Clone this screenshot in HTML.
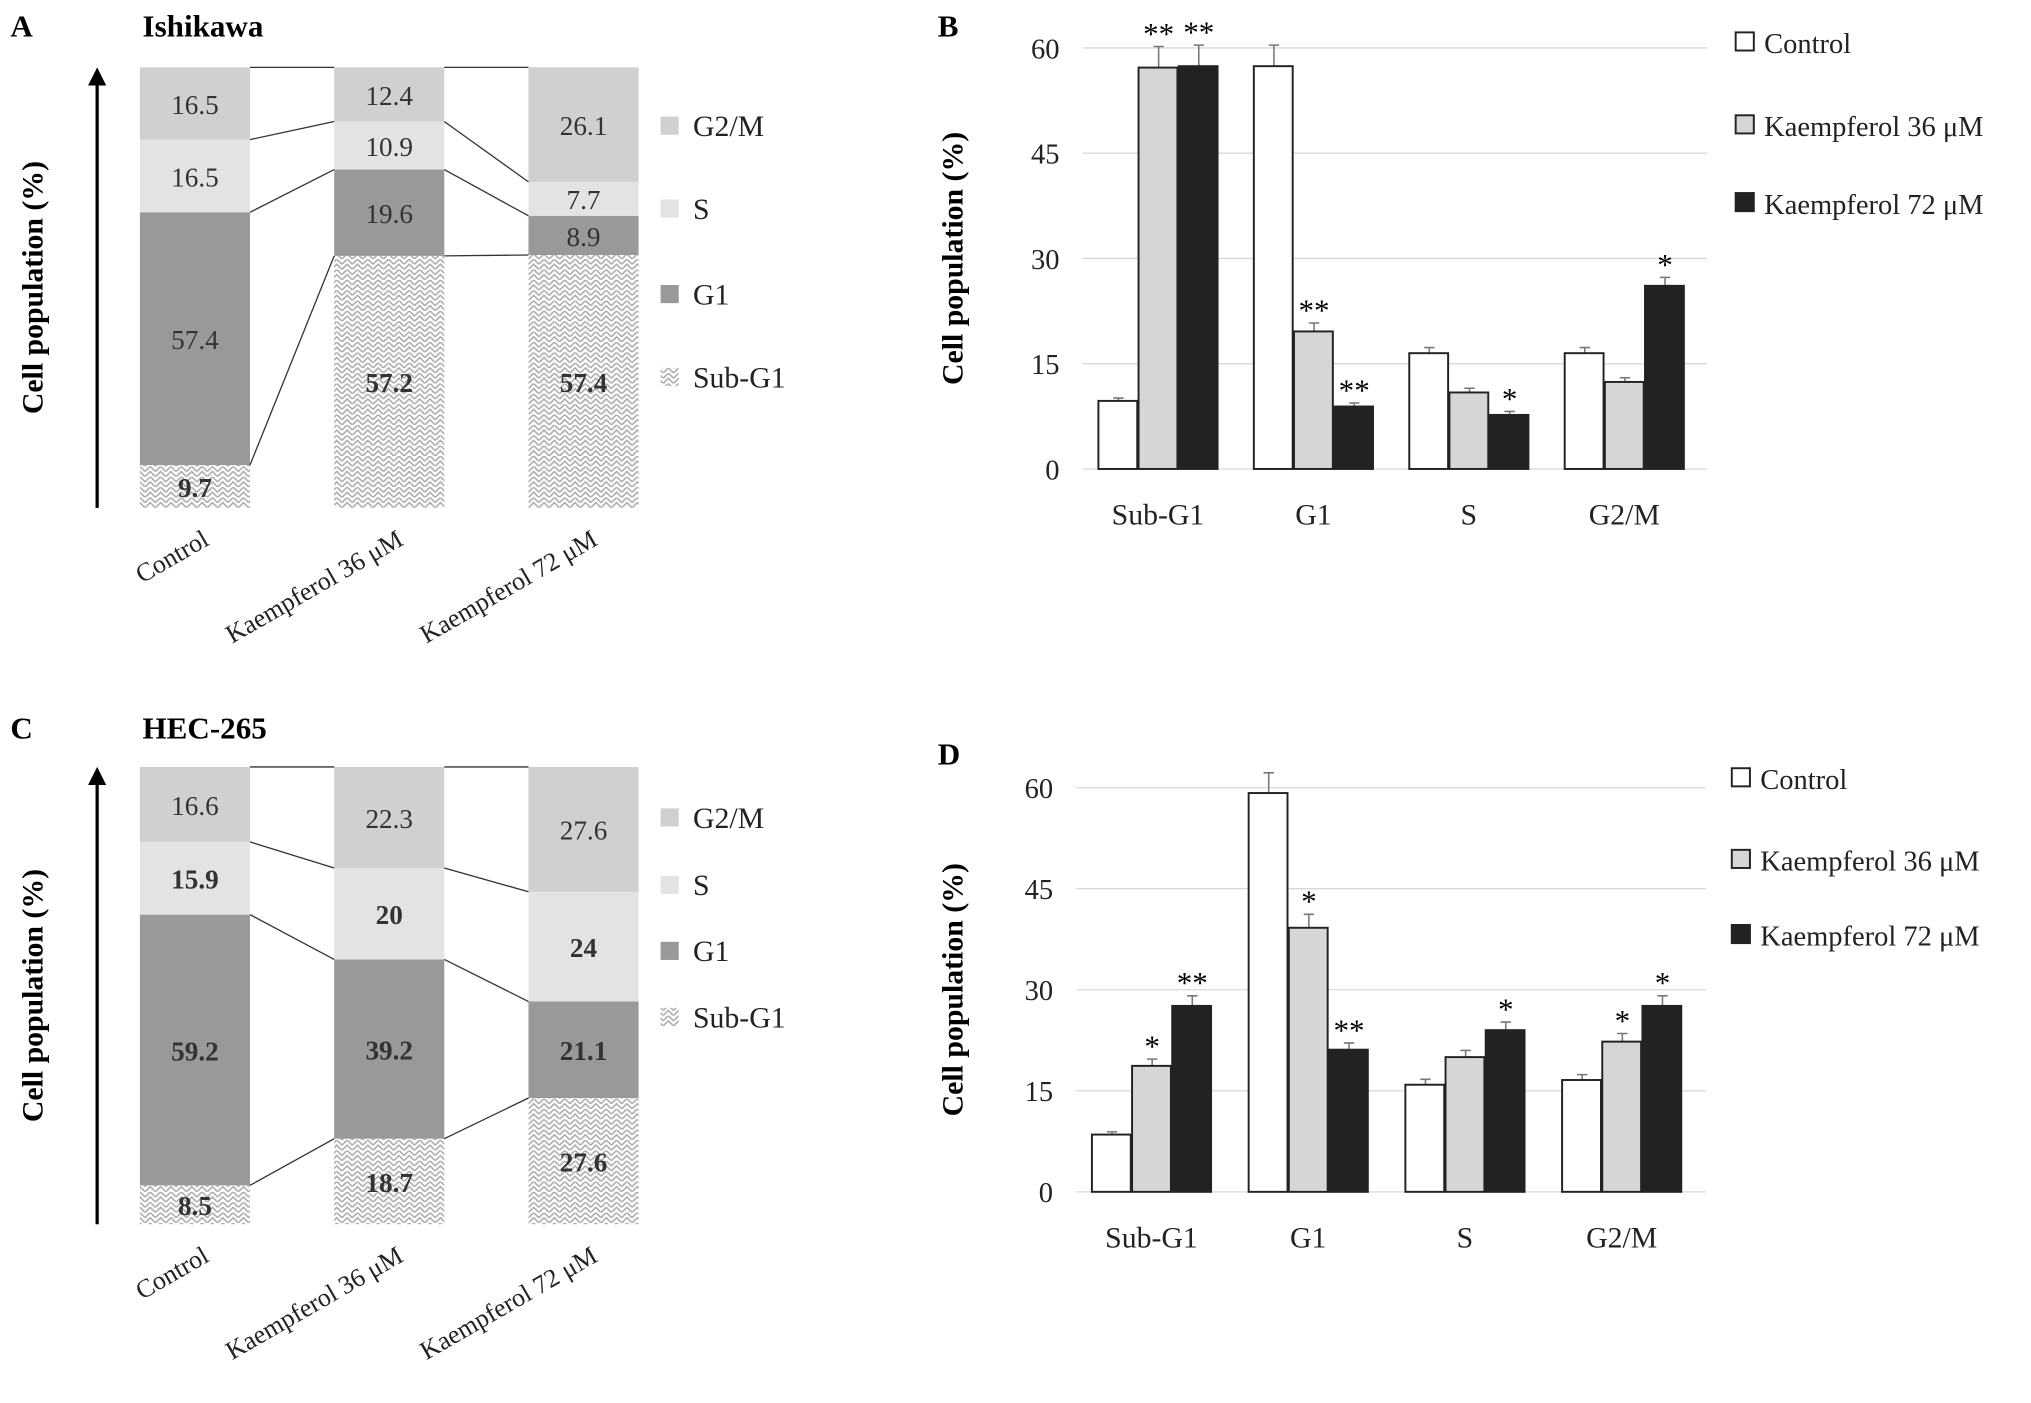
<!DOCTYPE html>
<html><head><meta charset="utf-8"><style>
html,body{margin:0;padding:0;background:#fff}
svg{display:block;font-family:"Liberation Serif",serif}
</style></head><body>
<svg id="fig" width="2031" height="1403" viewBox="0 0 1568 1083" preserveAspectRatio="none" xmlns="http://www.w3.org/2000/svg">
<defs>
<pattern id="hatch" width="8" height="8" patternUnits="userSpaceOnUse">
<rect width="8" height="8" fill="#fff"/>
<path d="M0 4 L4 0 L8 4 M0 8 L4 4 L8 8" stroke="#aaa" stroke-width="1.2" fill="none"/>
</pattern>
</defs>
<g id="root"></g>
</svg>
<script>
// Panel A / C stacked data (order: Sub-G1, G1, S, G2/M)
const stackCats = ["Control","Kaempferol 36 μM","Kaempferol 72 μM"];
const phases = ["Sub-G1","G1","S","G2/M"];
const aSubG1 = [9.7,57.2,57.4];
const aG1 = [57.4,19.6,8.9];
const aS = [16.5,10.9,7.7];
const aG2M = [16.5,12.4,26.1];
const cSubG1 = [8.5,18.7,27.6];
const cG1 = [59.2,39.2,21.1];
const cS = [15.9,20,24];
const cG2M = [16.6,22.3,27.6];
// Panel B / D bar data
const barCats = ["Sub-G1","G1","S","G2/M"];
const yTicks = [0,15,30,45,60];
const bControl = [9.7,57.4,16.5,16.5];
const bK36 = [57.2,19.6,10.9,12.4];
const bK72 = [57.4,8.9,7.7,26.1];
const bErrC = [0.4,3,0.8,0.8];
const bErr36 = [3,1.2,0.6,0.6];
const bErr72 = [3,0.5,0.5,1.2];
const bStars36 = ["**","**","",""];
const bStars72 = ["**","**","*","*"];
const dControl = [8.5,59.2,15.9,16.6];
const dK36 = [18.7,39.2,20,22.3];
const dK72 = [27.6,21.1,24,27.6];
const dErrC = [0.4,3,0.8,0.8];
const dErr36 = [1,2,1,1.2];
const dErr72 = [1.5,1,1.2,1.5];
const dStars36 = ["*","*","","*"];
const dStars72 = ["**","**","*","*"];

const NS="http://www.w3.org/2000/svg";
const root=document.getElementById('root');
function el(tag,attrs,parent,text){const e=document.createElementNS(NS,tag);for(const k in attrs)e.setAttribute(k,attrs[k]);if(text!==undefined)e.textContent=text;(parent||root).appendChild(e);return e;}

function stacked(letter,title,top,bottom,sub,g1,s,g2,boldSet,legendY,py){
  const g=el('g',{});
  
  
  const t1=el('text',{x:8,y:py,'font-size':24,'font-weight':'bold'},g,letter);
  
  const t2=el('text',{x:110,y:py,'font-size':24,'font-weight':'bold'},g,title);
  
  const sc=(bottom-top)/100;
  const y=v=>bottom-v*sc;
  const xs=[108,258,408], w=85;
  const fills=['url(#hatch)','#999','#e3e3e3','#d0d0d0'];
  const series=[sub,g1,s,g2];
  const bounds=[];
  for(let i=0;i<3;i++){
    let cum=0;const b=[bottom];
    for(let p=0;p<4;p++){
      const v=series[p][i];const y0=y(cum);let y1=y(cum+v);if(p==3)y1=top;
      const r=el('rect',{x:xs[i],y:y1,width:w,height:Math.max(0,y0-y1),fill:fills[p]},g);
      
      
      const lbl=el('text',{x:xs[i]+w/2,y:(y0+y1)/2+8,'font-size':21,'text-anchor':'middle','font-weight':boldSet[p][i]?'bold':'normal',fill:'#333'},g,String(v));
      
      cum+=v;b.push(p==3?top:y1);
    }
    bounds.push(b);
  }
  for(let i=0;i<2;i++)for(let k=1;k<5;k++){
    const ln=el('line',{x1:xs[i]+w,y1:bounds[i][k],x2:xs[i+1],y2:bounds[i+1][k],stroke:'#333','stroke-width':1},g);
    
  }
  const ax=el('line',{x1:75,y1:bottom,x2:75,y2:top+10,stroke:'#000','stroke-width':2.5},g);
  
  el('path',{d:`M68 ${top+14} L75 ${top} L82 ${top+14} Z`,fill:'#000'},g);
  const yt=el('text',{transform:`translate(33 ${(top+bottom)/2}) rotate(-90)`,'font-size':23,'font-weight':'bold','text-anchor':'middle'},g,'Cell population (%)');
  
  for(let i=0;i<3;i++){
    const tx=el('text',{transform:`translate(${xs[i]+w/2+12} ${bottom+28}) rotate(-30)`,'font-size':20,'text-anchor':'end',fill:'#222'},g,stackCats[i]);
    
  }
  const names=['G2/M','S','G1','Sub-G1'];const lf=['#d0d0d0','#e3e3e3','#999','url(#hatch)'];
  for(let k=0;k<4;k++){
    const le=el('g',{},g);
    el('rect',{x:510,y:legendY[k]-8,width:14,height:14,fill:lf[k]},le);
    el('text',{x:535,y:legendY[k]+7,'font-size':23,fill:'#222'},le,names[k]);
  }
}
stacked('A','Ishikawa',52,392,aSubG1,aG1,aS,aG2M,[[1,1,1],[0,0,0],[0,0,0],[0,0,0]],[98,162,228,292],28);
stacked('C','HEC-265',592,945,cSubG1,cG1,cS,cG2M,[[1,1,1],[1,1,1],[1,1,1],[0,0,0]],[632,684,735,786],570);

function bars(letter,py,zeroY,topY,x0,spacing,ctrl,k36,k72,eC,e36,e72,s36,s72,legX,legY){
  const g=el('g',{});
  
  
  const t1=el('text',{x:724,y:py,'font-size':24,'font-weight':'bold'},g,letter);
  
  const sc=(zeroY-topY)/60;const y=v=>zeroY-v*sc;
  for(const t of yTicks){
    const gl=el('line',{x1:x0-12,x2:x0+4*spacing-10,y1:y(t),y2:y(t),stroke:'#d8d8d8','stroke-width':1},g);
    
    const tl=el('text',{x:x0-30,y:y(t)+8,'font-size':22,'text-anchor':'end',fill:'#222'},g,String(t));
    
  }
  const yt=el('text',{transform:`translate(743 ${(zeroY+topY)/2}) rotate(-90)`,'font-size':23,'font-weight':'bold','text-anchor':'middle'},g,'Cell population (%)');
  
  const bw=31;const ser=[ctrl,k36,k72],err=[eC,e36,e72],fills=['#fff','#d6d6d6','#222'],stars=[null,s36,s72];
  for(let i=0;i<4;i++){
    for(let s=0;s<3;s++){
      const x=x0+spacing*i+s*bw;const v=ser[s][i];
      const eb=el('path',{d:`M${x+bw/2} ${y(v)} V${y(v+err[s][i])} M${x+bw/2-4} ${y(v+err[s][i])} H${x+bw/2+4}`,stroke:'#777','stroke-width':1.2,fill:'none'},g);
      
      const r=el('rect',{x:x,y:y(v),width:bw-1,height:zeroY-y(v),fill:fills[s],stroke:'#222','stroke-width':1.5},g);
      
      if(stars[s]&&stars[s][i]){
        const st=el('text',{x:x+bw/2,y:y(v+err[s][i])-2,'font-size':24,'text-anchor':'middle'},g,stars[s][i]);
        
      }
    }
    const xl=el('text',{x:x0+spacing*i+46,y:zeroY+43,'font-size':23,'text-anchor':'middle',fill:'#222'},g,barCats[i]);
    
  }
  const names=['Control','Kaempferol 36 μM','Kaempferol 72 μM'];
  for(let k=0;k<3;k++){
    const le=el('g',{},g);
    el('rect',{x:legX,y:legY[k]-8,width:14,height:14,fill:fills[k],stroke:'#222','stroke-width':1.5},le);
    el('text',{x:legX+22,y:legY[k]+8,'font-size':22,fill:'#222'},le,names[k]);
  }
}
bars('B',28,362,37,848,120,bControl,bK36,bK72,bErrC,bErr36,bErr72,bStars36,bStars72,1340,[33,97,157]);
bars('D',590,920,608,843,121,dControl,dK36,dK72,dErrC,dErr36,dErr72,dStars36,dStars72,1337,[601,664,722]);
</script>
</body></html>
